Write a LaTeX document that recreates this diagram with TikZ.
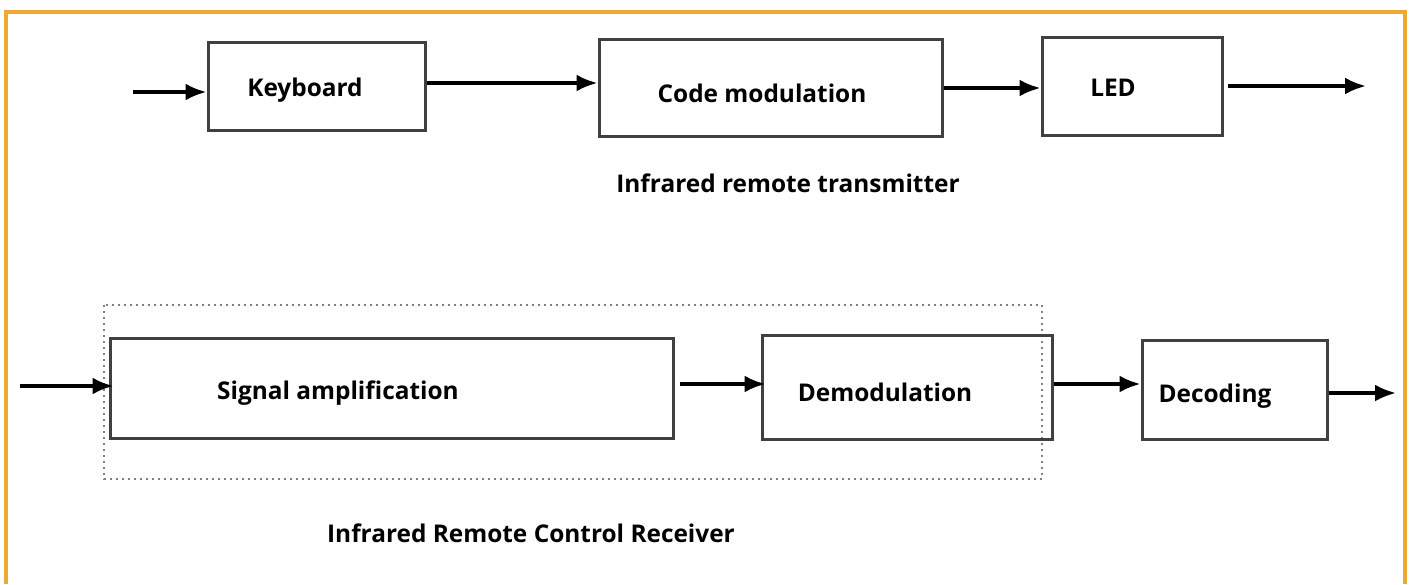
\documentclass[tikz,border=0pt]{standalone}
\usepackage{fontspec}
\setmainfont{Open Sans}
\usetikzlibrary{arrows.meta, calc}
\definecolor{frameorange}{HTML}{F0A733}
\definecolor{boxgray}{HTML}{404040}
\definecolor{dotgray}{HTML}{808080}

\tikzset{
    block/.style={draw=boxgray, line width=1.5pt, minimum width=#1, inner sep=0pt},
    blocktext/.style={font=\bfseries\fontsize{12.2}{14}\selectfont, inner sep=0pt},
    flow/.style={line width=1.8pt, -{Latex[length=10.5pt, width=8.5pt]}},
}

\begin{document}
\begin{tikzpicture}[x=0.5pt, y=-0.5pt]
        \def\frameW{2pt}

        % page and frame
        \useasboundingbox (0, 0) rectangle (1411, 584);
        \draw [frameorange, line width=\frameW] (6, 584) -- (6, 12) -- (1405, 12) -- (1405, 584);

        % transmitter
        \node [block=108.5pt, minimum height=44pt] (keyboard) at (316.5, 86) {};
        \node [block=171.5pt, minimum height=48.5pt] (codemod) at (770.5, 87.5) {};
        \node [block=90pt, minimum height=49pt] (led) at (1132, 86) {};

        \node [blocktext] (keyboardtext) at (305, 90) {Keyboard};
        \node [blocktext] (codemodtext) at (762, 93) {Code modulation};
        \node [blocktext] (ledtext) at (1113, 88) {LED};
        \node [blocktext] (transmitter) at (788, 183) {Infrared remote transmitter};

        \coordinate (txin) at (133, 92);
        \coordinate (txout) at (1366, 86);
        \draw [flow] (txin) -- (txin -| keyboard.west);
        \draw [flow] (keyboard.east |- 0, 83) -- (codemod.west |- 0, 83);
        \draw [flow] (codemod.east |- 0, 88) -- (led.west |- 0, 88);
        \draw [flow] (led.east |- txout) ++(4, 0) -- (txout);

        % receiver
        \draw [dotgray, line width=1pt, dotted] (104, 305) rectangle (1042, 479);

        \node [block=281.5pt, minimum height=50pt] (amp) at (391.5, 388) {};
        \node [block=145pt, minimum height=52pt] (demod) at (907, 387) {};
        \node [block=92.5pt, minimum height=49.5pt] (decode) at (1234.5, 389.5) {};

        \node [blocktext] (amptext) at (338, 393) {Signal amplification};
        \node [blocktext] (demodtext) at (885, 392) {Demodulation};
        \node [blocktext] (decodetext) at (1215, 396) {Decoding};
        \node [blocktext] (receiver) at (531, 533) {Infrared Remote Control Receiver};

        \coordinate (rxin) at (20, 386);
        \coordinate (rxout) at (1396, 393);
        \draw [flow] (rxin) -- ($(rxin -| amp.west) + (5, 0)$);
        \draw [flow] (amp.east |- 0, 384) ++(5, 0) -- ($(demod.west |- 0, 384) + (5, 0)$);
        \draw [flow] (demod.east |- 0, 384) -- (decode.west |- 0, 384);
        \draw [flow] (decode.east |- rxout) -- (rxout);
    \end{tikzpicture}
\end{document}
